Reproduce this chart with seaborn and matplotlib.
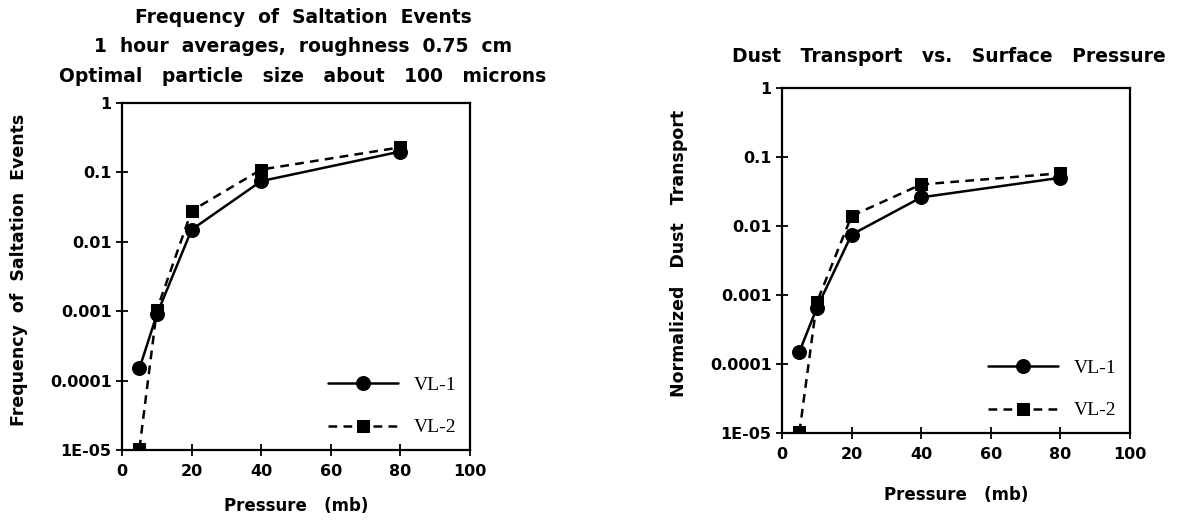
import numpy as np
import pandas as pd
import matplotlib
matplotlib.use('Agg')
import matplotlib.pyplot as plt
from matplotlib.ticker import FixedLocator, FixedFormatter, NullLocator
import seaborn as sns

sns.set_style('ticks')
plt.rcParams['font.family'] = ['DejaVu Sans']
plt.rcParams['font.weight'] = 'bold'
plt.rcParams['text.color'] = 'black'
plt.rcParams['axes.labelcolor'] = 'black'
plt.rcParams['xtick.color'] = 'black'
plt.rcParams['ytick.color'] = 'black'
plt.rcParams['axes.edgecolor'] = 'black'

pressure = [5, 10, 20, 40, 80]
# frequency of saltation events
freq_vl1 = [0.00015, 0.0009, 0.015, 0.075, 0.2]
freq_vl2 = [0.0000105, 0.00105, 0.028, 0.11, 0.23]
# normalized dust transport
dust_vl1 = [0.00015, 0.00065, 0.0075, 0.026, 0.05]
dust_vl2 = [0.0000102, 0.00078, 0.014, 0.04, 0.058]

ytick_vals = [1e-5, 1e-4, 1e-3, 1e-2, 1e-1, 1]
ytick_labels = ['1E-05', '0.0001', '0.001', '0.01', '0.1', '1']
xtick_vals = [0, 20, 40, 60, 80, 100]

fig = plt.figure(figsize=(11.77, 5.2), dpi=100)
ax1 = fig.add_axes([0.1037, 0.1346, 0.2957, 0.6673])
ax2 = fig.add_axes([0.6644, 0.1673, 0.2957, 0.6635])


def draw(ax, y1, y2, ylabel, title, title_pad, title_x, xlab_y):
    df = pd.DataFrame({'p': pressure, 'a': y1, 'b': y2})
    sns.lineplot(data=df, x='p', y='a', ax=ax, color='black', lw=1.8,
                 marker='o', markersize=10, markeredgecolor='black', label='VL-1')
    sns.lineplot(data=df, x='p', y='b', ax=ax, color='black', lw=1.8,
                 linestyle=(0, (3.5, 2.5)), marker='s', markersize=9,
                 markeredgecolor='black', label='VL-2')
    ax.set_yscale('log')
    ax.set_ylim(1e-5, 1)
    ax.set_xlim(0, 100)
    ax.yaxis.set_major_locator(FixedLocator(ytick_vals))
    ax.yaxis.set_major_formatter(FixedFormatter(ytick_labels))
    ax.yaxis.set_minor_locator(NullLocator())
    ax.xaxis.set_major_locator(FixedLocator(xtick_vals))
    ax.tick_params(direction='inout', length=8, width=1.3, labelsize=11.5)
    ax.tick_params(axis='x', pad=6)
    for s in ax.spines.values():
        s.set_linewidth(1.6)
        s.set_visible(True)
    ax.set_xlabel('Pressure   (mb)', fontsize=12, fontweight='bold')
    ax.xaxis.set_label_coords(0.5, xlab_y)
    ax.set_ylabel(ylabel, fontsize=12.5, fontweight='bold')
    ax.yaxis.set_label_coords(-0.27, 0.52)
    ax.set_title(title, fontsize=13.5, fontweight='bold', linespacing=1.72,
                 pad=title_pad, x=title_x)
    ax.legend(loc='lower right', bbox_to_anchor=(1.0, 0.0), frameon=False,
              handlelength=3.6, labelspacing=1.3, borderaxespad=0.3,
              prop={'family': 'Liberation Serif', 'size': 14, 'weight': 'normal'})


draw(ax1, freq_vl1, freq_vl2, 'Frequency  of  Saltation  Events',
     'Frequency  of  Saltation  Events\n1  hour  averages,  roughness  0.75  cm\n'
     'Optimal   particle   size   about   100   microns', 15, 0.52, -0.135)
draw(ax2, dust_vl1, dust_vl2, 'Normalized   Dust   Transport',
     'Dust   Transport   vs.   Surface   Pressure', 19, 0.48, -0.155)

fig.savefig('out.png', dpi=100)
